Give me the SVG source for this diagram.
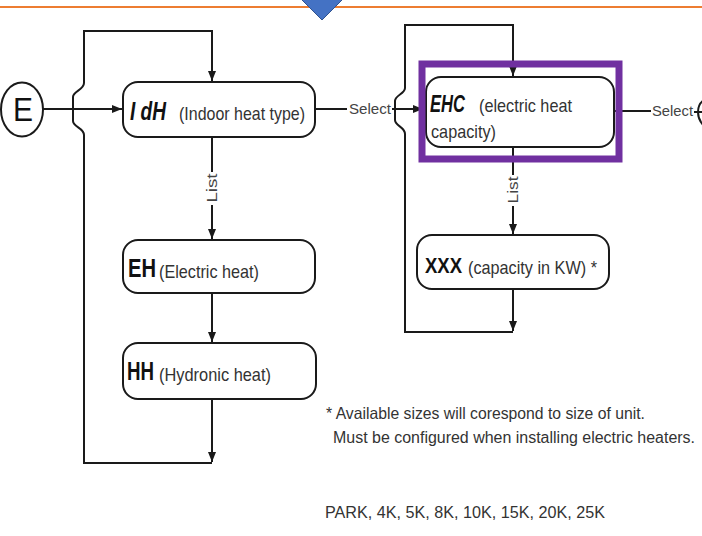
<svg xmlns="http://www.w3.org/2000/svg" width="702" height="536" viewBox="0 0 702 536">
  <defs>
    <marker id="arr" viewBox="0 0 10 8" refX="10" refY="4" markerWidth="10" markerHeight="8" markerUnits="userSpaceOnUse" orient="auto">
      <path d="M0,0 L10,4 L0,8 Z" fill="#1a1a1a"/>
    </marker>
    <style>
      .ln { fill: none; stroke: #1a1a1a; stroke-width: 2; }
      .box { fill: #ffffff; stroke: #1a1a1a; stroke-width: 2; }
      .code { font-family: "Liberation Sans", Arial, sans-serif; font-weight: bold; fill: #111; }
      .desc { font-family: "Liberation Sans", Arial, sans-serif; font-size: 19px; fill: #333; }
      .lbl { font-family: "Liberation Sans", Arial, sans-serif; font-size: 14px; fill: #444; }
      .note { font-family: "Liberation Sans", Arial, sans-serif; font-size: 16.5px; fill: #333; }
    </style>
  </defs>

  <rect x="0" y="0" width="702" height="536" fill="#ffffff"/>

  <!-- header -->
  <line x1="0" y1="7" x2="702" y2="7" stroke="#ED7D31" stroke-width="2"/>
  <polygon points="298,-4 346,-4 322,20" fill="#4472C4" stroke="#2F528F" stroke-width="1"/>

  <!-- connectors -->
  <g id="connectors">
    <path class="ln" d="M43,109 H122" marker-end="url(#arr)"/>
    <path class="ln" d="M212,399 V462" marker-end="url(#arr)"/>
    <path class="ln" d="M212,463 H84 V135 C84,128 73,127 73,121 V97 C73,91 84,90 84,83 V31 H212 V81" marker-end="url(#arr)"/>
    <path class="ln" d="M212,137 V172"/>
    <path class="ln" d="M212,205 V239" marker-end="url(#arr)"/>
    <path class="ln" d="M212,293 V342" marker-end="url(#arr)"/>

    <path class="ln" d="M315,109 H347"/>
    <path class="ln" d="M392,109 H423" marker-end="url(#arr)"/>
    <path class="ln" d="M513,147 V175"/>
    <path class="ln" d="M513,206 V234" marker-end="url(#arr)"/>
    <path class="ln" d="M513,289 V331" marker-end="url(#arr)"/>
    <path class="ln" d="M513,332 H405 V134 C405,127 395,126 395,120 V101 C395,95 405,94 405,88 V25 H513 V76" marker-end="url(#arr)"/>

    <path class="ln" d="M614,111 H651"/>
    <path class="ln" d="M694,112 H702"/>
    <path class="ln" d="M704,100 Q698,104 698,112 Q698,120 704,126"/>

    <text class="lbl" x="349" y="114" textLength="42" lengthAdjust="spacingAndGlyphs">Select</text>
    <text class="lbl" x="652" y="116" textLength="41" lengthAdjust="spacingAndGlyphs">Select</text>
    <text class="lbl" transform="translate(217,188) rotate(-90)" text-anchor="middle" textLength="29" lengthAdjust="spacingAndGlyphs">List</text>
    <text class="lbl" transform="translate(518,190) rotate(-90)" text-anchor="middle" textLength="27" lengthAdjust="spacingAndGlyphs">List</text>
  </g>

  <!-- E start -->
  <g id="node-e">
    <ellipse cx="22" cy="109.5" rx="21" ry="27" fill="#ffffff" stroke="#1a1a1a" stroke-width="2"/>
    <text x="13" y="121" font-family="Liberation Sans, Arial, sans-serif" font-size="34" fill="#111" textLength="20" lengthAdjust="spacingAndGlyphs">E</text>
  </g>

  <g id="node-idh">
    <rect class="box" x="123" y="82" width="192" height="55" rx="15"/>
    <text class="code" x="130" y="120" font-size="25" font-style="italic" textLength="36" lengthAdjust="spacingAndGlyphs">I dH</text>
    <text class="desc" x="179" y="120" textLength="126" lengthAdjust="spacingAndGlyphs">(Indoor heat type)</text>
  </g>

  <g id="node-eh">
    <rect class="box" x="123" y="240" width="192" height="53" rx="15"/>
    <text class="code" x="128" y="277" font-size="25" textLength="28" lengthAdjust="spacingAndGlyphs">EH</text>
    <text class="desc" x="159" y="278" textLength="100" lengthAdjust="spacingAndGlyphs">(Electric heat)</text>
  </g>

  <g id="node-hh">
    <rect class="box" x="123" y="343" width="193" height="56" rx="15"/>
    <text class="code" x="127" y="380" font-size="25" textLength="27" lengthAdjust="spacingAndGlyphs">HH</text>
    <text class="desc" x="159" y="381" textLength="112" lengthAdjust="spacingAndGlyphs">(Hydronic heat)</text>
  </g>

  <g id="node-ehc">
    <rect class="box" x="426" y="77" width="188" height="70" rx="15"/>
    <text class="code" x="430" y="112" font-size="24" font-style="italic" textLength="35" lengthAdjust="spacingAndGlyphs">EHC</text>
    <text class="desc" x="479" y="112" textLength="93" lengthAdjust="spacingAndGlyphs">(electric heat</text>
    <text class="desc" x="431" y="138" textLength="65" lengthAdjust="spacingAndGlyphs">capacity)</text>
  </g>
  <g id="highlight">
    <rect x="422" y="64" width="197" height="95" fill="none" stroke="#7030A0" stroke-width="7"/>
  </g>

  <g id="node-xxx">
    <rect class="box" x="417" y="235" width="192" height="54" rx="15"/>
    <text class="code" x="425" y="273" font-size="22" textLength="37" lengthAdjust="spacingAndGlyphs">XXX</text>
    <text class="desc" x="468" y="274" textLength="129" lengthAdjust="spacingAndGlyphs">(capacity in KW) *</text>
  </g>

  <g id="notes">
    <text class="note" x="326" y="419" textLength="319" lengthAdjust="spacingAndGlyphs">* Available sizes will corespond to size of unit.</text>
    <text class="note" x="333" y="443" font-size="15.8" textLength="362" lengthAdjust="spacingAndGlyphs" style="font-size:15.8px">Must be configured when installing electric heaters.</text>
    <text class="note" x="325" y="518" textLength="280" lengthAdjust="spacingAndGlyphs">PARK, 4K, 5K, 8K, 10K, 15K, 20K, 25K</text>
  </g>
</svg>
